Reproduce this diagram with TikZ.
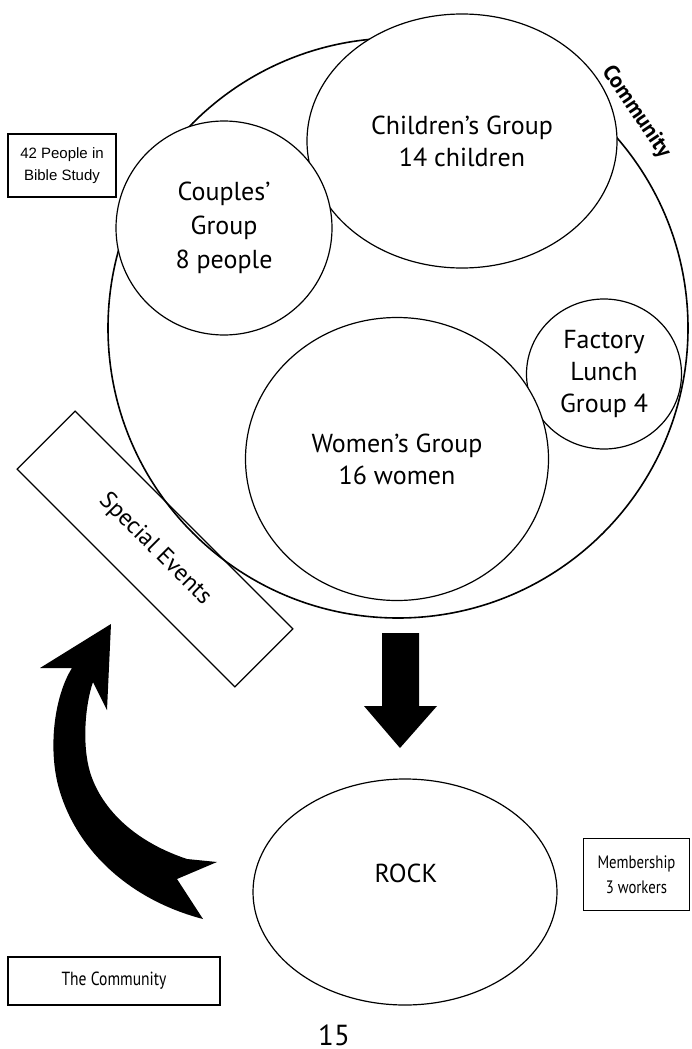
\documentclass[tikz,border=0pt]{standalone}
\usepackage{fontspec}
\setmainfont{PT Sans}
\newfontfamily\arialf{Liberation Sans}
\newfontfamily\condf{PT Sans}[FakeStretch=0.82]
\usetikzlibrary{shapes.geometric}
\begin{document}
\begin{tikzpicture}[x=1pt,y=-1pt,
  grp/.style={ellipse, draw, fill=white, line width=1.2pt, inner sep=0pt, align=center,
              font=\fontsize{26}{32}\selectfont},
  tagbox/.style={rectangle, draw, line width=1.8pt, inner sep=0pt, align=center},
  outerc/.style={draw, line width=1.6pt}]
\useasboundingbox (0,0) rectangle (691,1049);

% outer community circle
\path[outerc] (398,328) circle [radius=290pt];
\node[font=\bfseries\fontsize{22}{22}\selectfont, rotate=-56] (commlbl) at (636,112) {Community};

% groups
\node[grp, minimum width=310pt, minimum height=254pt] (children) at (462,141) {Children’s Group\\14 children};
\node[grp, minimum width=216pt, minimum height=214pt, font=\fontsize{26}{34}\selectfont] (couples) at (224,228) {Couples’\\Group\\8 people};
\node[grp, minimum width=155pt, minimum height=150pt] (factory) at (604,374) {Factory\\Lunch\\Group 4};
\node[grp, minimum width=303pt, minimum height=283pt] (women) at (397,459) {Women’s Group\\16 women};

% special events
\node[draw, line width=1.2pt, minimum width=308pt, minimum height=82pt, rotate=-45,
      font=\fontsize{24}{24}\selectfont] (special) at (155,549) {Special Events};

% down arrow
\fill (382,633) -- (419,633) -- (419,706) -- (437,706) -- (400,748) -- (364,706) -- (382,706) -- cycle;

% ROCK
\node[grp, minimum width=304pt, minimum height=226pt] (rock) at (405,892) {};
\node[font=\fontsize{26}{26}\selectfont] (rocklbl) at (406,873) {ROCK};

% curved arrow
\fill (111,624) -- (107,710) -- (93,682)
  .. controls (85,705) and (82,745) .. (90,772)
  .. controls (100,805) and (130,840) .. (187,859)
  -- (217,862) -- (177,879) -- (203,919)
  .. controls (130,900) and (75,850) .. (58,785)
  .. controls (48,745) and (55,695) .. (72,668)
  -- (40,668) -- cycle;

% tag boxes
\node[tagbox, minimum width=108pt, minimum height=63pt, font=\arialf\fontsize{15}{22}\selectfont] (bible) at (62,165.5) {42 People in\\Bible Study};
\node[tagbox, minimum width=106pt, minimum height=72pt, font=\condf\fontsize{18}{25}\selectfont] (member) at (636.5,874.5) {Membership\\3 workers};
\node[tagbox, minimum width=212pt, minimum height=48pt, font=\condf\fontsize{19}{19}\selectfont] (community) at (114,981) {The Community};

\node[font=\fontsize{29}{29}\selectfont, inner sep=0pt] (page) at (334,1035) {15};
\end{tikzpicture}
\end{document}
